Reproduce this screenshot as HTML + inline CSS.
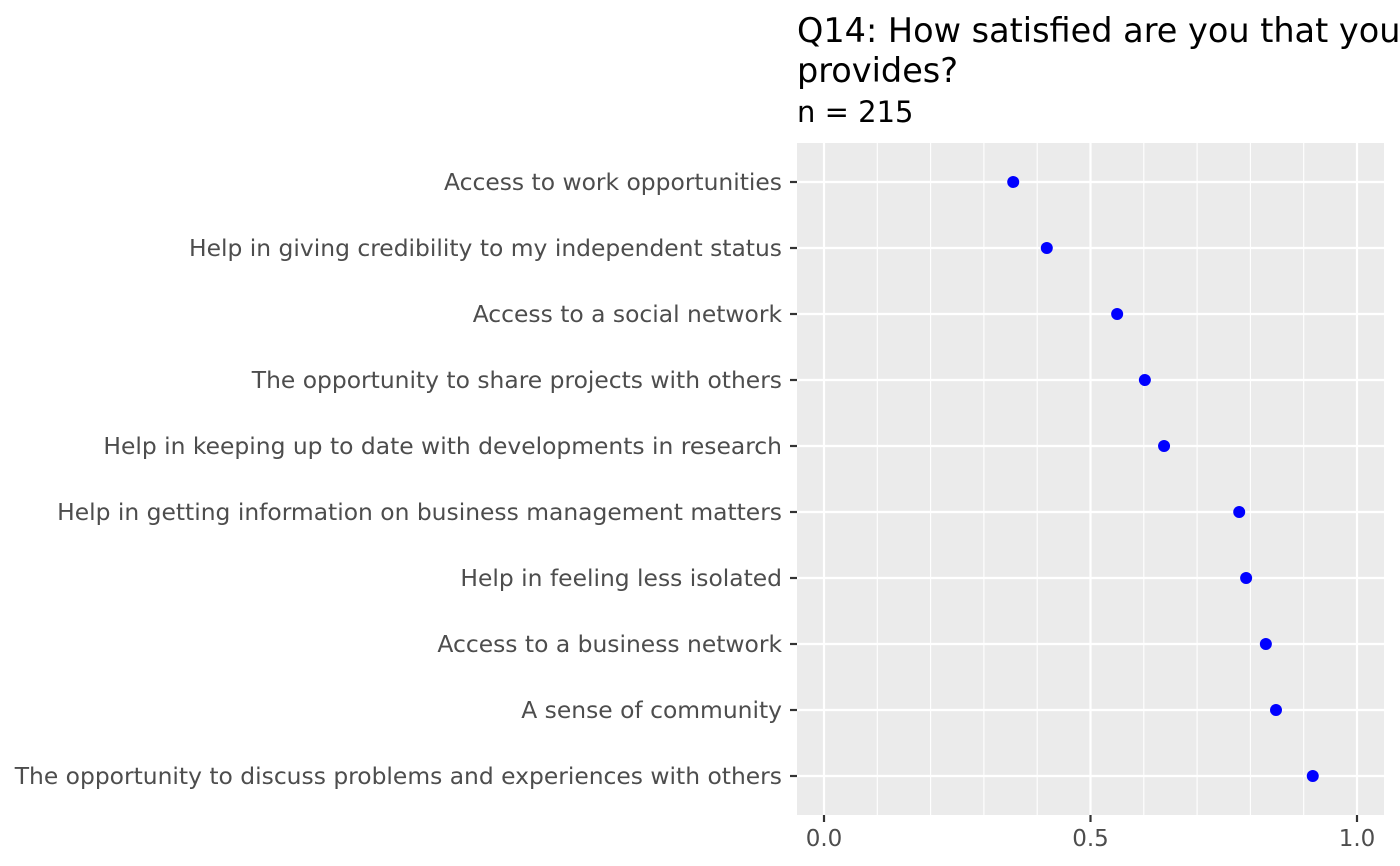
<!DOCTYPE html>
<html><head><meta charset="utf-8"><style>
html,body{margin:0;padding:0;background:#fff;}
svg{display:block;font-family:"DejaVu Sans","Liberation Sans",sans-serif;}
</style></head><body>
<svg id="chart" width="1400" height="866" viewBox="0 0 1400 866">
<text x="797" y="42" font-size="33.5" fill="#000">Q14: How satisfied are you that your coworking space provides</text>
<text x="797" y="82" font-size="33.5" fill="#000">provides?</text>
<text x="797" y="122" font-size="29" fill="#000">n = 215</text>
<rect x="797" y="143" width="587" height="672" fill="#ebebeb"/>
<g id="grid"></g><g id="marks"></g><g id="axes"></g>
</svg>
<script>
const categories = ["Access to work opportunities","Help in giving credibility to my independent status","Access to a social network","The opportunity to share projects with others","Help in keeping up to date with developments in research","Help in getting information on business management matters","Help in feeling less isolated","Access to a business network","A sense of community","The opportunity to discuss problems and experiences with others"];
const values = [0.355,0.418,0.55,0.602,0.638,0.779,0.792,0.829,0.848,0.917];
const xTicks = [0,0.5,1];
const xTickLabels = ["0.0","0.5","1.0"];
const NS="http://www.w3.org/2000/svg";
const X0=824, X1=1357;
function xs(v){return X0+(X1-X0)*v;}
function ys(i){return 182+66*i;}
function mk(tag,attrs,parent){const e=document.createElementNS(NS,tag);for(const k in attrs)e.setAttribute(k,attrs[k]);parent.appendChild(e);return e;}
const grid=document.getElementById('grid'),marks=document.getElementById('marks'),axes=document.getElementById('axes');
for(let t=0;t<=1.0001;t+=0.1){
  const major=Math.abs(t*2-Math.round(t*2))<1e-6;
  const l=mk('line',{x1:xs(t),x2:xs(t),y1:143,y2:815,stroke:'#fff','stroke-width':major?2.2:1.1},grid);
  
  
}
categories.forEach((c,i)=>{
  const l=mk('line',{x1:797,x2:1384,y1:ys(i),y2:ys(i),stroke:'#fff','stroke-width':2.2},grid);
  
  
  const tk=mk('line',{x1:790,x2:797,y1:ys(i),y2:ys(i),stroke:'#333','stroke-width':2.2},axes);
  
  
  const tx=mk('text',{x:782,y:ys(i)+8,'text-anchor':'end','font-size':23.4,fill:'#4d4d4d'},axes);
  tx.textContent=c;
  
  
  const p=mk('circle',{cx:xs(values[i]),cy:ys(i),r:6,fill:'#0000ff'},marks);
  
  
});
xTicks.forEach((t,j)=>{
  const tk=mk('line',{x1:xs(t),x2:xs(t),y1:815,y2:822,stroke:'#333','stroke-width':2.2},axes);
  
  
  const tx=mk('text',{x:xs(t),y:846,'text-anchor':'middle','font-size':23,fill:'#4d4d4d'},axes);
  tx.textContent=xTickLabels[j];
  
  
});
</script>
</body></html>
